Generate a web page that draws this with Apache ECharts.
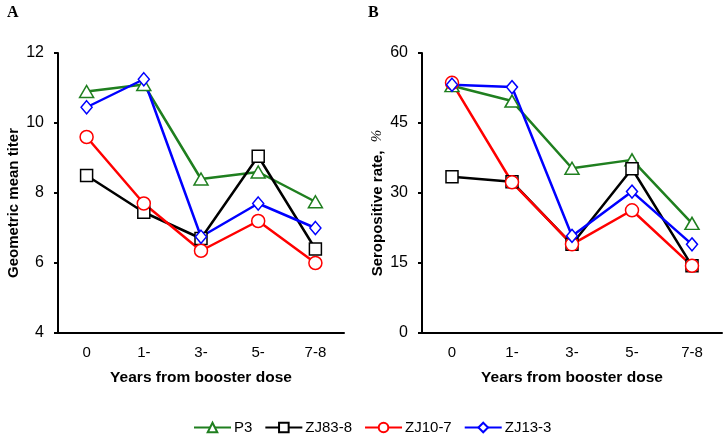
<!DOCTYPE html>
<html>
<head>
<meta charset="utf-8">
<script src="https://cdn.jsdelivr.net/npm/echarts@6/dist/echarts.min.js"></script>
<style>
  html, body { margin: 0; padding: 0; background: #fff; }
  #chart { width: 725px; height: 435px; }
</style>
</head>
<body>
<div id="chart"></div>
<script>
const categories = ['0', '1-', '3-', '5-', '7-8'];
const seriesNames = ['P3', 'ZJ83-8', 'ZJ10-7', 'ZJ13-3'];

// panel A: geometric mean titer
const gmtP3 = [10.9, 11.1, 8.4, 8.6, 7.75];
const gmtZJ83 = [8.5, 7.45, 6.7, 9.05, 6.4];
const gmtZJ10 = [9.6, 7.7, 6.35, 7.2, 6.0];
const gmtZJ13 = [10.45, 11.25, 6.75, 7.7, 7.0];

// panel B: seropositive rate, %
const seroP3 = [53, 49.7, 35.3, 37.1, 23.5];
const seroZJ83 = [33.5, 32.4, 19.0, 35.2, 14.4];
const seroZJ10 = [53.6, 32.3, 19.0, 26.3, 14.4];
const seroZJ13 = [53.2, 52.7, 20.8, 30.3, 19.0];

const colors = ['#1f7f1f', '#000000', '#ff0000', '#0000ff'];
const symbols = ['triangle', 'rect', 'circle', 'diamond'];
const symbolSizes = [[14, 12], 12, 13, [11, 13]];
const font = "'Liberation Sans', Arial, sans-serif";

let myChart = echarts.init(document.getElementById('chart'));

function xAxisFor(gridIndex) {
    return {
        type: 'category',
        gridIndex: gridIndex,
        data: categories,
        boundaryGap: true,
        name: 'Years from booster dose',
        nameLocation: 'middle',
        nameGap: 37,
        nameTextStyle: {fontFamily: font, fontWeight: 'bold', fontSize: 15.5, color: '#000'},
        axisLine: {lineStyle: {color: '#000', width: 2}},
        axisTick: {length: 4, lineStyle: {color: '#000', width: 2}},
        axisLabel: {fontFamily: font, fontSize: 15, color: '#000', margin: 12},
        splitLine: {show: false}
    };
}

function yAxisFor(gridIndex, min, max, interval, name) {
    return {
        type: 'value',
        gridIndex: gridIndex,
        min: min,
        max: max,
        interval: interval,
        name: name,
        nameLocation: 'middle',
        nameGap: 37,
        nameTextStyle: {
            fontFamily: font, fontWeight: 'bold', fontSize: 15, color: '#000',
            padding: [0, 20, 0, 0],
            rich: {p: {fontFamily: "'Liberation Serif', serif", fontStyle: 'italic', fontWeight: 'normal', fontSize: 15, color: '#000'}}
        },
        axisLine: {show: true, lineStyle: {color: '#000', width: 2}},
        axisTick: {show: true, length: 4, lineStyle: {color: '#000', width: 2}},
        axisLabel: {fontFamily: font, fontSize: 16, color: '#000', margin: 14},
        splitLine: {show: false}
    };
}

function makeSeries(name, data, i, axisIndex) {
    return {
        name: name,
        type: 'line',
        xAxisIndex: axisIndex,
        yAxisIndex: axisIndex,
        data: data,
        symbol: symbols[i],
        symbolSize: symbolSizes[i],
        lineStyle: {color: colors[i], width: 2.5},
        itemStyle: {color: '#fff', borderColor: colors[i], borderWidth: 1.5},
        emphasis: {disabled: true}
    };
}

const gmtData = [gmtP3, gmtZJ83, gmtZJ10, gmtZJ13];
const seroData = [seroP3, seroZJ83, seroZJ10, seroZJ13];

let series = [];
seriesNames.forEach(function (name, i) { series.push(makeSeries(name, gmtData[i], i, 0)); });
seriesNames.forEach(function (name, i) { series.push(makeSeries(name, seroData[i], i, 1)); });

myChart.setOption({
    animation: false,
    title: [
        {text: 'A', left: 2, top: 0, textStyle: {fontFamily: "'Liberation Serif', serif", fontWeight: 'bold', fontSize: 16, color: '#000'}},
        {text: 'B', left: 363, top: 0, textStyle: {fontFamily: "'Liberation Serif', serif", fontWeight: 'bold', fontSize: 16, color: '#000'}}
    ],
    legend: {
        data: seriesNames,
        left: 188,
        top: 415,
        itemWidth: 37,
        itemHeight: 12,
        itemGap: 12,
        textStyle: {fontFamily: font, fontSize: 15, color: '#000', padding: [0, 0, 0, -2]}
    },
    grid: [
        {left: 58, top: 53, width: 286, height: 280},
        {left: 422, top: 53, width: 300, height: 280}
    ],
    xAxis: [xAxisFor(0), xAxisFor(1)],
    yAxis: [
        yAxisFor(0, 4, 12, 2, 'Geometric mean titer'),
        yAxisFor(1, 0, 60, 15, 'Seropositive rate,  {p|%}')
    ],
    series: series
});
</script>
</body>
</html>
